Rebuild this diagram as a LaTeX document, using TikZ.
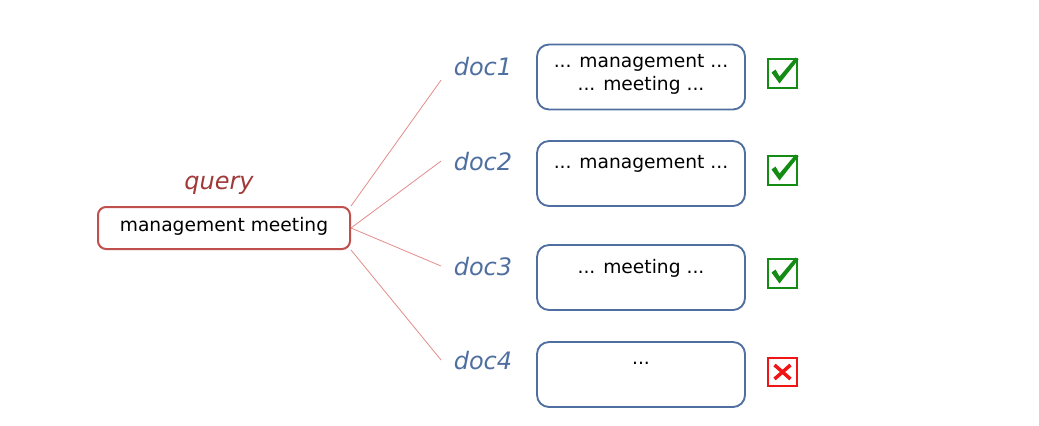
\documentclass[tikz,border=0pt]{standalone}
\usepackage{fontspec}
\setmainfont{DejaVu Sans}
\usetikzlibrary{positioning}
\definecolor{qred}{RGB}{192,80,77}
\definecolor{qlabel}{RGB}{160,58,56}
\definecolor{dblue}{RGB}{79,111,160}
\definecolor{lnred}{RGB}{226,140,138}
\definecolor{okgreen}{RGB}{20,140,20}
\definecolor{nored}{RGB}{240,20,20}
\tikzset{
    querybox/.style={draw=qred,line width=1.5pt,rounded corners=6pt,minimum width=189pt,minimum height=31.5pt,inner sep=0pt},
    docbox/.style={draw=dblue,line width=1.4pt,rounded corners=9pt,minimum width=156pt,minimum height=48.75pt,inner sep=0pt},
    doctext/.style={anchor=base,align=center,font=\fontsize{14}{17.25}\selectfont},
    doclabel/.style={anchor=base,text=dblue,font=\fontsize{18}{20}\selectfont\itshape},
    fan/.style={draw=lnred,line width=0.6pt},
    tick/.style={draw=okgreen,line width=1.6pt,minimum size=21.5pt,inner sep=0pt},
    cross/.style={draw=nored,line width=1.6pt,minimum size=21.5pt,inner sep=0pt}
}
\begin{document}
\begin{tikzpicture}[x=0.75pt,y=-0.75pt]
      \useasboundingbox (0,0) rectangle (1039,425);
      % query
      \node[querybox] (q) at (224,228) {};
      \node[doctext] (qt) at (224,231) {management meeting};
      \node[anchor=base,text=qlabel,font=\fontsize{18}{20}\selectfont\itshape] (ql) at (219,189) {query};
      % documents
      \node[doclabel] (d1) at (483,75) {doc1};
      \node[doclabel] (d2) at (483,170) {doc2};
      \node[doclabel] (d3) at (483,275) {doc3};
      \node[doclabel] (d4) at (483,369) {doc4};
      \node[docbox] (b1) at (641,77) {};
      \node[docbox] (b2) at (641,173.5) {};
      \node[docbox] (b3) at (641,277.5) {};
      \node[docbox] (b4) at (641,374.5) {};
      \node[doctext] (t1) at (641,90) {... management ...\\... meeting ...};
      \node[doctext] (t2) at (641,168) {... management ...};
      \node[doctext] (t3) at (641,273) {... meeting ...};
      \node[doctext] (t4) at (641,364) {...};
      % fan of lines
      \draw[fan] (q.north east) -- ([xshift=-6pt]d1.south west);
      \draw[fan] (q.east) -- ([xshift=-6pt]d2.west);
      \draw[fan] (q.east) -- ([xshift=-6pt]d3.west);
      \draw[fan] (q.south east) -- ([xshift=-6pt]d4.west);
      % marks
      \node[tick] (c1) at (782.5,73.5) {};
      \node[tick] (c2) at (782.5,170.5) {};
      \node[tick] (c3) at (782.5,273.5) {};
      \node[cross] (c4) at (782.5,372) {};
      \foreach \C in {c1,c2,c3}
      {\fill[okgreen,shift={(\C.center)}] (-11,-1) -- (-7,-4) -- (-3,3) -- (13,-16) -- (16,-14) -- (-3,10) -- cycle;}
      \draw[nored,line width=2.6pt,shift={(c4.center)}] (-8,-7) -- (8,7) (8,-7) -- (-8,7);
\end{tikzpicture}
\end{document}
